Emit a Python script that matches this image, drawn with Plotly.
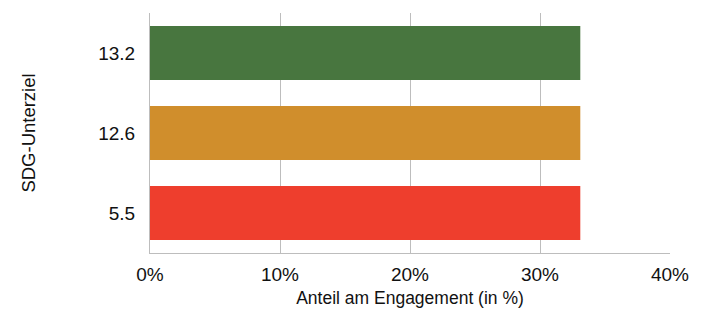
import plotly.graph_objects as go

categories = ["5.5", "12.6", "13.2"]
values = [33.1, 33.1, 33.1]
colors = ["#EE3E2D", "#D08E2C", "#48763F"]
tick_vals = [0, 10, 20, 30, 40]
tick_text = ["0%", "10%", "20%", "30%", "40%"]

font_family = "Liberation Sans, Arial, sans-serif"

fig = go.Figure(go.Bar(
    x=values, y=categories, orientation="h",
    marker=dict(color=colors, line=dict(width=0)),
    hoverinfo="x+y",
))

# page body has an 8px default margin, so the figure is sized to fit the window
fig.update_layout(
    width=699, height=306,
    margin=dict(l=142, r=37, t=5, b=61, autoexpand=False),
    plot_bgcolor="white", paper_bgcolor="white",
    bargap=0.325,
    showlegend=False,
    font=dict(family=font_family, size=19, color="#111111"),
)
fig.update_xaxes(
    range=[0, 40], tickvals=tick_vals, ticktext=tick_text,
    showgrid=True, gridcolor="#BDBDBD", gridwidth=1,
    showline=True, linecolor="#BDBDBD", linewidth=1,
    zeroline=False, ticks="", ticklen=0, automargin=False,
    tickfont=dict(size=19), ticklabelstandoff=4,
    title=dict(text="Anteil am Engagement (in %)", font=dict(size=17.5), standoff=7),
)
fig.update_yaxes(
    type="category", categoryorder="array", categoryarray=categories,
    showgrid=False, showline=True, linecolor="#BDBDBD", linewidth=1,
    ticks="", tickfont=dict(size=19), ticklabelstandoff=10, automargin=False,
    title=dict(text="SDG-Unterziel", font=dict(size=18.5), standoff=57),
)

fig.write_html("out.html")
